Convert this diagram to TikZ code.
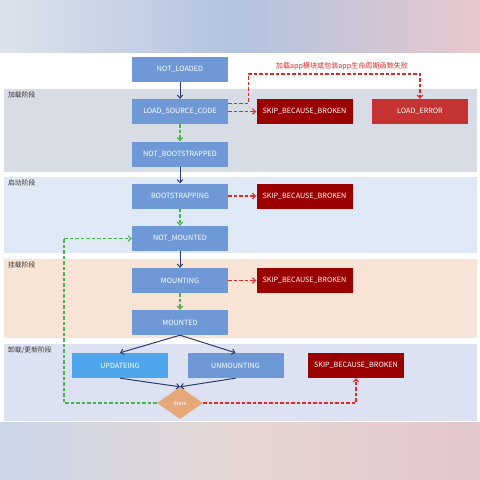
\documentclass[tikz,border=0pt]{standalone}
\usepackage{fontspec}
\setmainfont{Noto Sans CJK SC}
\usetikzlibrary{arrows.meta,shapes.geometric}
\definecolor{boxblue}{HTML}{6E98D6}
\definecolor{updblue}{HTML}{4FA6EC}
\definecolor{skipred}{HTML}{9A0000}
\definecolor{errred}{HTML}{C43232}
\definecolor{donec}{HTML}{E6A878}
\definecolor{navy}{HTML}{2F3C73}
\definecolor{rdash}{HTML}{E02828}
\definecolor{gdash}{HTML}{4CAF50}
\definecolor{bandA}{HTML}{D8DCE5}
\definecolor{bandB}{HTML}{DFE8F5}
\definecolor{bandC}{HTML}{F7E4D4}
\definecolor{bandD}{HTML}{DCE2F1}
\definecolor{lbl}{HTML}{333333}
\definecolor{topL}{HTML}{DCE2EC}
\definecolor{topM}{HTML}{B2C3E0}
\definecolor{topR}{HTML}{E8C8CC}
\definecolor{botL}{HTML}{CBD6EA}
\definecolor{botM}{HTML}{E6D6D2}
\definecolor{botR}{HTML}{E2C6CC}
\begin{document}
\begin{tikzpicture}[x=1pt,y=-1pt,
  statebox/.style={fill=boxblue,text=white,minimum width=96pt,minimum height=25pt,inner sep=0pt,font=\fontsize{7.2}{8}\selectfont},
  skipbox/.style={statebox,fill=skipred},
  stagelbl/.style={anchor=north west,inner sep=0pt,text=lbl,font=\fontsize{6.8}{7.5}\selectfont},
  solidarr/.style={draw=navy,line width=1pt,-{Straight Barb[length=3pt,width=5.5pt]}},
  greenarr/.style={draw=gdash,line width=1.1pt,dash pattern=on 3.5pt off 2pt,-{Straight Barb[length=3pt,width=5.5pt]}},
  redarr/.style={draw=rdash,line width=1.1pt,dash pattern=on 3.5pt off 2pt,-{Straight Barb[length=3pt,width=5.5pt]}},
  greenline/.style={draw=gdash,line width=1.1pt,dash pattern=on 3.5pt off 2pt}]
\useasboundingbox (0,0) rectangle (480,480);
% blurred backgrounds
\shade[left color=topL,right color=topR,middle color=topM] (0,0) rectangle (480,53);
\shade[left color=botL,right color=botR,middle color=botM] (0,422) rectangle (480,480);
\fill[white] (0,53) rectangle (480,422);
% bands
\fill[bandA] (4,89) rectangle (477,172);
\fill[bandB] (4,177) rectangle (477,253);
\fill[bandC] (4,259) rectangle (477,338);
\fill[bandD] (4,344) rectangle (477,421);
\node[stagelbl] (sA) at (8,92) {加载阶段};
\node[stagelbl] (sB) at (8,180) {启动阶段};
\node[stagelbl] (sC) at (8,262) {挂载阶段};
\node[stagelbl] (sD) at (8,347) {卸载/更新阶段};
% states
\node[statebox] (nl) at (180,69.5) {NOT\_LOADED};
\node[statebox] (lsc) at (180,111.5) {LOAD\_SOURCE\_CODE};
\node[statebox] (nb) at (180,154) {NOT\_BOOTSTRAPPED};
\node[statebox] (bs) at (180,196) {BOOTSTRAPPING};
\node[statebox] (nm) at (180,238.5) {NOT\_MOUNTED};
\node[statebox] (mg) at (180,280.5) {MOUNTING};
\node[statebox] (md) at (180,322.5) {MOUNTED};
\node[statebox,fill=updblue] (up) at (120,365.5) {UPDATEING};
\node[statebox] (um) at (235.5,365.5) {UNMOUNTING};
\node[skipbox] (sk1) at (304.5,111.5) {SKIP\_BECAUSE\_BROKEN};
\node[statebox,fill=errred] (err) at (420,111.5) {LOAD\_ERROR};
\node[skipbox] (sk2) at (304.5,196) {SKIP\_BECAUSE\_BROKEN};
\node[skipbox] (sk3) at (304.5,280.5) {SKIP\_BECAUSE\_BROKEN};
\node[skipbox] (sk4) at (356,365.5) {SKIP\_BECAUSE\_BROKEN};
\node[diamond,fill=donec,text=white,minimum width=46pt,minimum height=32pt,inner sep=0pt,font=\fontsize{5.5}{6}\selectfont] (dn) at (180,403) {done};
% label
\node[text=rdash,font=\fontsize{7.1}{8}\selectfont,inner sep=0pt] (elbl) at (342,66) {加载app模块或包装app生命周期函数失败};
% arrows
\draw[solidarr] (nl) -- (lsc);
\draw[greenarr] (lsc) -- (nb);
\draw[solidarr] (nb) -- (bs);
\draw[greenarr] (bs) -- (nm);
\draw[solidarr] (nm) -- (mg);
\draw[greenarr] (mg) -- (md);
\draw[solidarr] (md.south) -- (up.north);
\draw[solidarr] (md.south) -- (um.north);
\draw[solidarr] (up.south) -- (dn.north);
\draw[solidarr] (um.south) -- (dn.north);
\draw[redarr] (lsc.east) -- (sk1.west);
\draw[redarr] ([yshift=8pt]lsc.east) -- ++(20,0) -- ++(0,-29.5) -| (err.north);
\draw[redarr] (bs) -- (sk2);
\draw[redarr] (mg) -- (sk3);
\draw[redarr] (dn.east) -| (sk4.south);
\coordinate (gl) at (64,238.5);
\draw[greenline] (dn.west) -| (gl);
\draw[greenarr] (gl) -- (nm.west);
\end{tikzpicture}
\end{document}
